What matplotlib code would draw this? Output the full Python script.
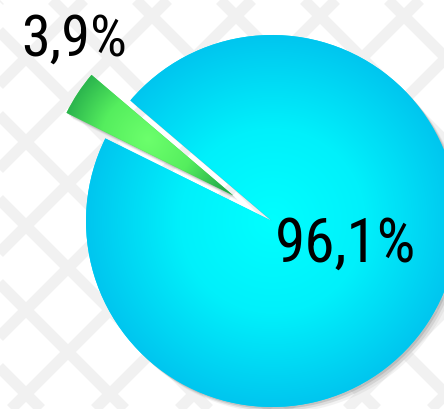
import numpy as np
import matplotlib.pyplot as plt
from matplotlib import font_manager
from matplotlib.colors import LinearSegmentedColormap
from matplotlib.patches import Wedge

labels = ['3,9%', '96,1%']
values = [3.9, 96.1]
explode = [0.25, 0]
label_pos = [(74, 369), (346, 164)]
label_size = [42, 44]

W, H = 444, 409
fig = plt.figure(figsize=(W / 100, H / 100), dpi=100)
ax = fig.add_axes([0, 0, 1, 1])

# background pattern (rough lattice of light grey diagonal bands)
for c in np.arange(-H, W + H, 84):
    ax.plot([c, c + H], [0, H], color='#f1f1f1', lw=8, zorder=0, solid_capstyle='butt')
    ax.plot([c + 30, c + 30 - H], [0, H], color='#f1f1f1', lw=8, zorder=0, solid_capstyle='butt')

center = (272, 188)
r = 186
wedges, _ = ax.pie(values, explode=[e * r for e in explode], startangle=139.6,
                   center=center, radius=r, colors=['#44dd55', '#00d8f8'], frame=True,
                   wedgeprops=dict(lw=0, zorder=3))
ax.set_aspect('equal')
ax.axis('off')

# soft shadows
for w in wedges:
    for k, a in [(2, 0.3), (4, 0.2), (6, 0.1)]:
        ax.add_patch(Wedge((w.center[0] + k, w.center[1] - k), w.r, w.theta1, w.theta2,
                           color='#888888', alpha=a, lw=0, zorder=2))

# radial gradients
xx, yy = np.meshgrid(np.linspace(0, W, W), np.linspace(H, 0, H))
cyan = LinearSegmentedColormap.from_list('c', ['#00ffff', '#00f0fb', '#00c6ef'])
green = LinearSegmentedColormap.from_list('g', ['#6cff6c', '#55ee5e', '#22a84a'])

w = wedges[1]
d = np.hypot(xx - w.center[0], yy - w.center[1]) / w.r
im = ax.imshow(np.clip(d, 0, 1), cmap=cyan, extent=[0, W, 0, H], zorder=4, vmin=0, vmax=1)
im.set_clip_path(w)

w = wedges[0]
mid = np.radians((w.theta1 + w.theta2) / 2)
gx = w.center[0] + 0.55 * w.r * np.cos(mid)
gy = w.center[1] + 0.55 * w.r * np.sin(mid)
d = np.hypot(xx - gx, yy - gy) / (0.5 * w.r)
im = ax.imshow(np.clip(d, 0, 1), cmap=green, extent=[0, W, 0, H], zorder=4, vmin=0, vmax=1)
im.set_clip_path(w)
ax.set_xlim(0, W)
ax.set_ylim(0, H)

names = {f.name for f in font_manager.fontManager.ttflist}
fam = [n for n in ['Roboto Condensed', 'Liberation Sans Narrow', 'DejaVu Sans'] if n in names]
for lab, (x, y), fs in zip(labels, label_pos, label_size):
    ax.text(x, y, lab, fontsize=fs, ha='center', va='center', color='black', zorder=6,
            family=fam, stretch='condensed')

fig.savefig('out.png', dpi=100)
